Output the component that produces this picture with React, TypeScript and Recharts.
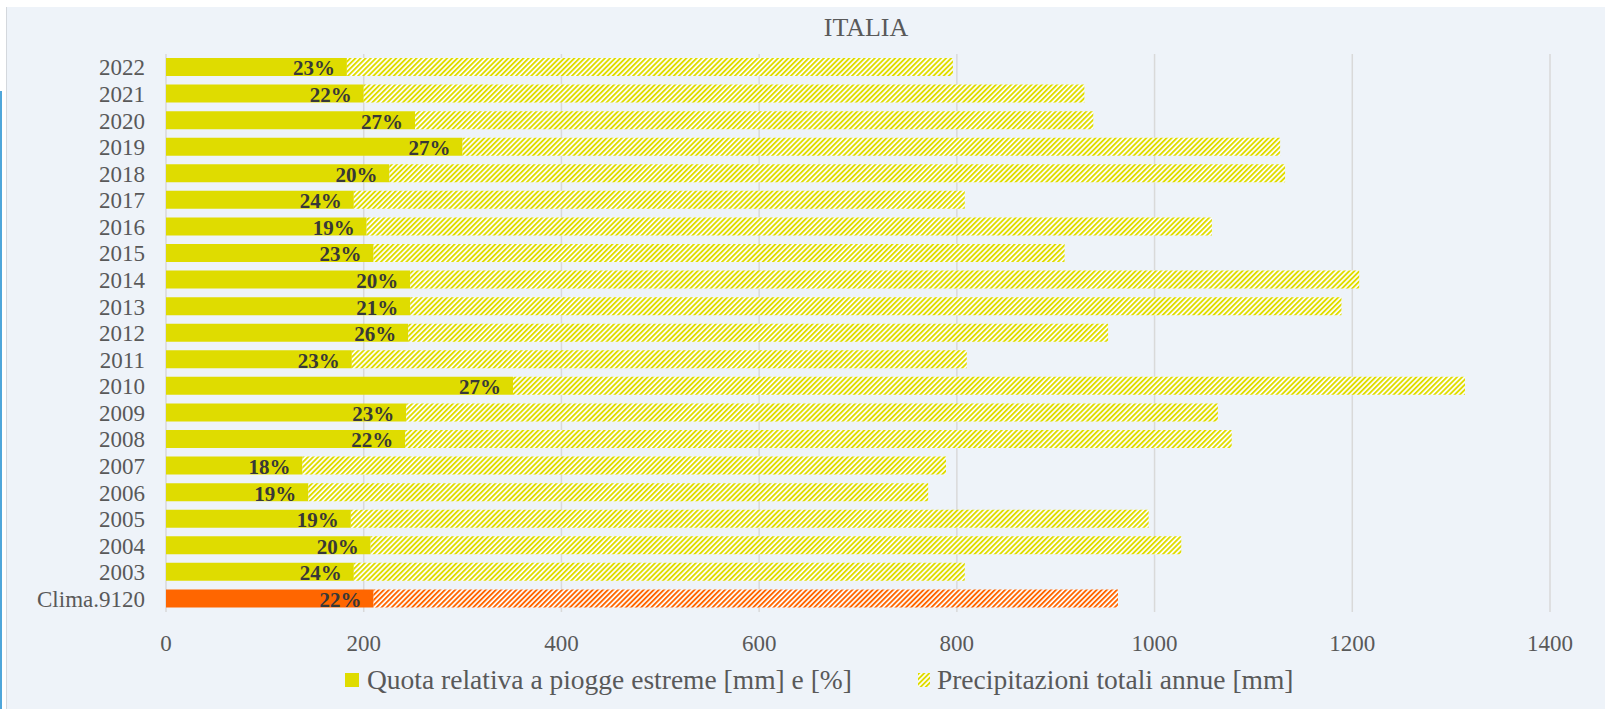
import React from "react"
import { BarChart, Bar, XAxis, YAxis, CartesianGrid, Cell, LabelList } from "recharts"

const categories = [
  "2022", "2021", "2020", "2019", "2018", "2017", "2016", "2015", "2014", "2013", "2012",
  "2011", "2010", "2009", "2008", "2007", "2006", "2005", "2004", "2003", "Clima.9120",
]
// mm of rain from extreme events
const extreme = [183, 200, 252, 300, 226, 190, 203, 210, 247, 247, 245, 188, 351, 243, 242, 138, 144, 187, 207, 190, 210]
// total yearly rain, mm
const total = [796, 929, 938, 1127, 1132, 808, 1058, 909, 1207, 1189, 953, 810, 1314, 1064, 1078, 789, 771, 994, 1027, 808, 963]
// share of extreme rain, %
const pct = [23, 22, 27, 27, 20, 24, 19, 23, 20, 21, 26, 23, 27, 23, 22, 18, 19, 19, 20, 24, 22]
const xTicks = [0, 200, 400, 600, 800, 1000, 1200, 1400]

const SERIES_EXTREME = "Quota relativa a piogge estreme [mm] e [%]"
const SERIES_TOTAL = "Precipitazioni totali annue [mm]"

const YELLOW = "#dfdc00"
const ORANGE = "#ff6600"
const GREY = "#595959"
const FONT = "'Liberation Serif', 'Times New Roman', serif"

const data = categories.map((c, i) => ({
  name: c,
  extreme: extreme[i],
  rest: total[i] - extreme[i],
  label: `${pct[i]}%`,
  clima: c.startsWith("Clima"),
}))

function Hatch({ id, color }: { id: string; color: string }) {
  return (
    <pattern id={id} patternUnits="userSpaceOnUse" width="3.6" height="3.6" patternTransform="rotate(45)">
      <rect width="3.6" height="3.6" fill="#ffffff" />
      <rect width="1.9" height="3.6" fill={color} />
    </pattern>
  )
}

export default function App() {
  return (
    <div style={{ position: "relative", width: 1605, height: 709, fontFamily: FONT, background: "#fff" }}>
      <style>{`body{margin:0}`}</style>
      <div style={{ position: "absolute", left: 6, top: 7, width: 1599, height: 702, background: "#eef3f9", borderLeft: "1px solid #d4d8dd" }} />
      <div style={{ position: "absolute", left: 0, top: 91, width: 2, height: 618, background: "#4fa6da" }} />
      <div style={{ position: "absolute", left: 766, top: 14, width: 200, textAlign: "center", fontSize: 26, lineHeight: "28px", color: GREY }}>
        ITALIA
      </div>
      <div style={{ position: "absolute", left: 0, top: 0 }}>
        <BarChart width={1605} height={709} data={data} layout="vertical" barSize={18}
          margin={{ top: 54, right: 55, left: 0, bottom: 67 }}>
          <defs>
            <Hatch id="hatchYellow" color={YELLOW} />
            <Hatch id="hatchOrange" color={ORANGE} />
          </defs>
          <CartesianGrid horizontal={false} stroke="#d9d9d9" strokeWidth={1.5} />
          <XAxis type="number" domain={[0, 1400]} ticks={xTicks} axisLine={false} tickLine={false} tickMargin={17}
            tick={{ fill: GREY, fontSize: 23, fontFamily: FONT }} />
          <YAxis type="category" dataKey="name" width={166} axisLine={false} tickLine={false} tickMargin={15} interval={0}
            tick={{ fill: GREY, fontSize: 23, fontFamily: FONT }} />
          <Bar dataKey="extreme" name={SERIES_EXTREME} stackId="a" fill={YELLOW} isAnimationActive={false}>
            {data.map((d) => (
              <Cell key={d.name} fill={d.clima ? ORANGE : YELLOW} />
            ))}
            <LabelList dataKey="label" position="insideRight" offset={12} fill="#383838" dy={1}
              fontSize={21} fontWeight="bold" fontFamily={FONT} />
          </Bar>
          <Bar dataKey="rest" name={SERIES_TOTAL} stackId="a" fill="url(#hatchYellow)" isAnimationActive={false}>
            {data.map((d) => (
              <Cell key={d.name} fill={d.clima ? "url(#hatchOrange)" : "url(#hatchYellow)"} />
            ))}
          </Bar>
        </BarChart>
      </div>
      <div style={{ position: "absolute", left: 345, top: 664, display: "flex", alignItems: "center", fontSize: 27.5, color: GREY, whiteSpace: "nowrap" }}>
        <span style={{ width: 14, height: 14, background: YELLOW, marginRight: 8, display: "inline-block" }} />
        <span>{SERIES_EXTREME}</span>
        <svg width={12} height={14} style={{ marginLeft: 66, marginRight: 7 }}>
          <defs>
            <Hatch id="hatchLegend" color={YELLOW} />
          </defs>
          <rect width={12} height={14} fill="url(#hatchLegend)" />
        </svg>
        <span>{SERIES_TOTAL}</span>
      </div>
    </div>
  )
}
